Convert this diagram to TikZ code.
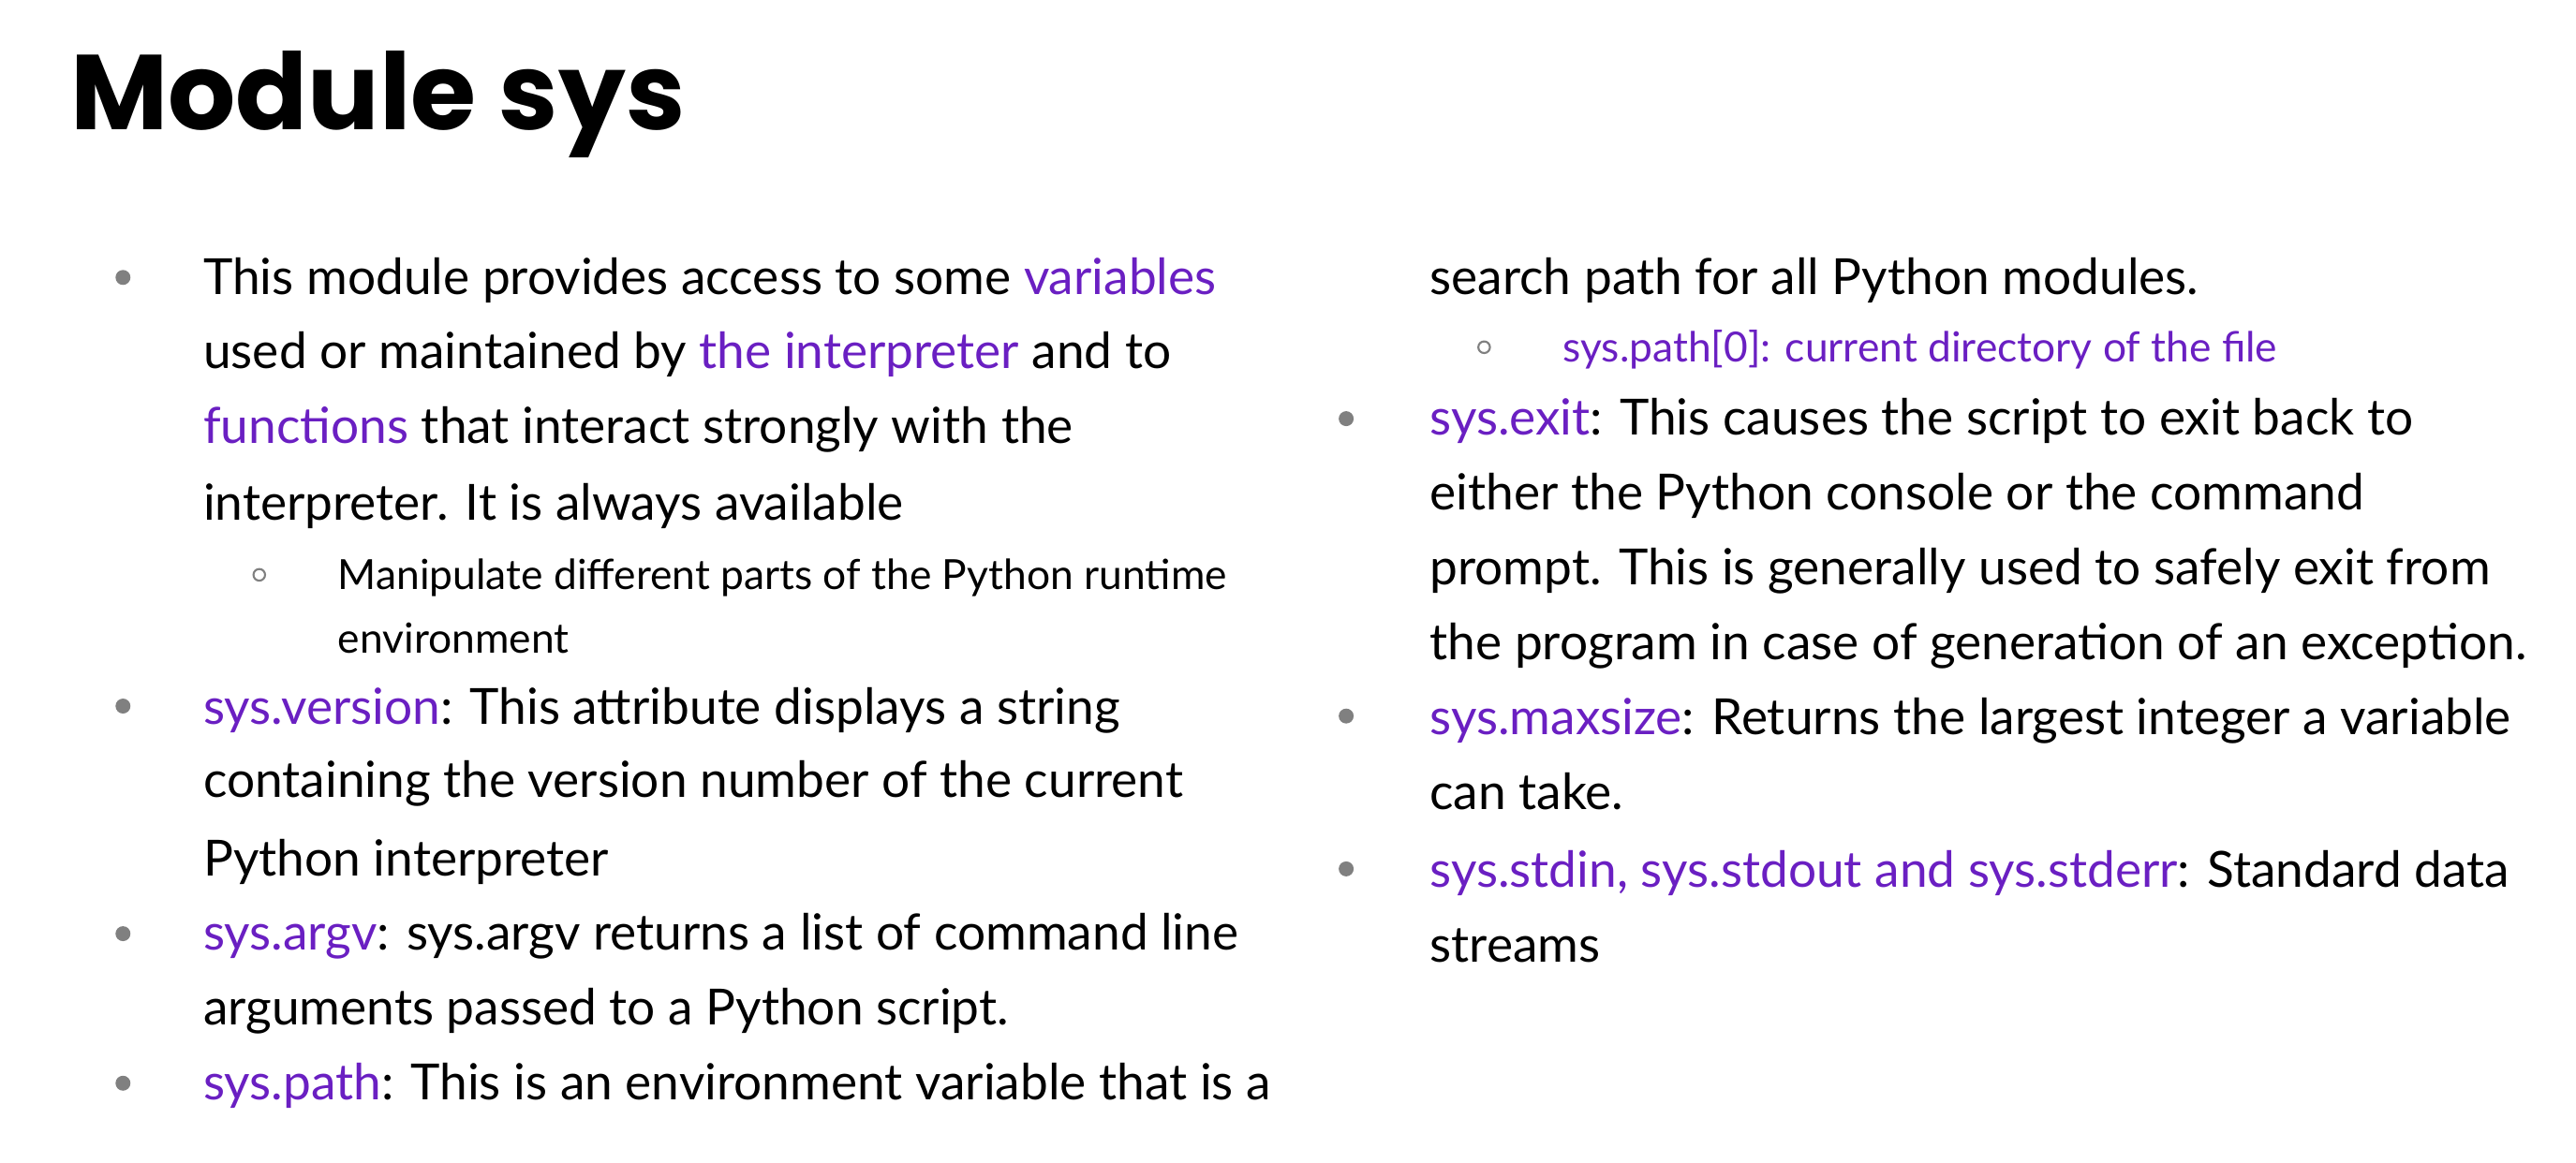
\documentclass[tikz,border=0pt]{standalone}
\usepackage{fontspec}
\setmainfont{Lato}
\newfontfamily\titlefont{Poppins}
\definecolor{linkpurple}{HTML}{6A1FC2}
\definecolor{dotgray}{HTML}{808080}
\newcommand{\kw}[1]{\textcolor{linkpurple}{#1}}
\begin{document}
\begin{tikzpicture}[x=0.5pt,y=-0.5pt]
    \tikzstyle{every node}+=[inner sep=0pt,anchor=base west]
    \tikzstyle{body}=[font=\fontsize{15}{18}\selectfont]
    \tikzstyle{small}=[font=\fontsize{12.5}{15}\selectfont]
    \tikzstyle{dot}=[fill=dotgray,draw=none]
    \tikzstyle{ring}=[draw=dotgray,line width=0.6pt]
    \useasboundingbox (0,0) rectangle (1550,699.5);
    % title
    \node (title) at (42,78) {\titlefont\bfseries\fontsize{32}{36}\selectfont Module sys};
    % left column
    \foreach \y in {167,425,562,652} \fill [dot] (74,\y) circle (4.5);
    \draw [ring] (156,346) circle (3.5);
    \node [body] (l1) at (122,177) {This module provides access to some \kw{variables}};
    \node [body] (l2) at (122,222) {used or maintained by \kw{the interpreter} and to};
    \node [body] (l3) at (122,267) {\kw{functions} that interact strongly with the};
    \node [body] (l4) at (122,313) {interpreter. It is always available};
    \node [small] (s1) at (203,355) {Manipulate different parts of the Python runtime};
    \node [small] (s2) at (203,393) {environment};
    \node [body] (v1) at (122,436) {\kw{sys.version}: This attribute displays a string};
    \node [body] (v2) at (122,480) {containing the version number of the current};
    \node [body] (v3) at (122,527) {Python interpreter};
    \node [body] (a1) at (122,572) {\kw{sys.argv}: sys.argv returns a list of command line};
    \node [body] (a2) at (122,617) {arguments passed to a Python script.};
    \node [body] (p1) at (122,662) {\kw{sys.path}: This is an environment variable that is a};
    % right column
    \foreach \y in {252,431,523} \fill [dot] (810,\y) circle (4.5);
    \draw [ring] (893,209) circle (3.5);
    \node [body] (p2) at (860,177) {search path for all Python modules.};
    \node [small] (s3) at (940,218) {\kw{sys.path[0]: current directory of the file}};
    \node [body] (e1) at (860,262) {\kw{sys.exit}: This causes the script to exit back to};
    \node [body] (e2) at (860,307) {either the Python console or the command};
    \node [body] (e3) at (860,352) {prompt. This is generally used to safely exit from};
    \node [body] (e4) at (860,397) {the program in case of generation of an exception.};
    \node [body] (m1) at (860,442) {\kw{sys.maxsize}: Returns the largest integer a variable};
    \node [body] (m2) at (860,487) {can take.};
    \node [body] (d1) at (860,534) {\kw{sys.stdin, sys.stdout and sys.stderr}: Standard data};
    \node [body] (d2) at (860,579) {streams};
\end{tikzpicture}
\end{document}
